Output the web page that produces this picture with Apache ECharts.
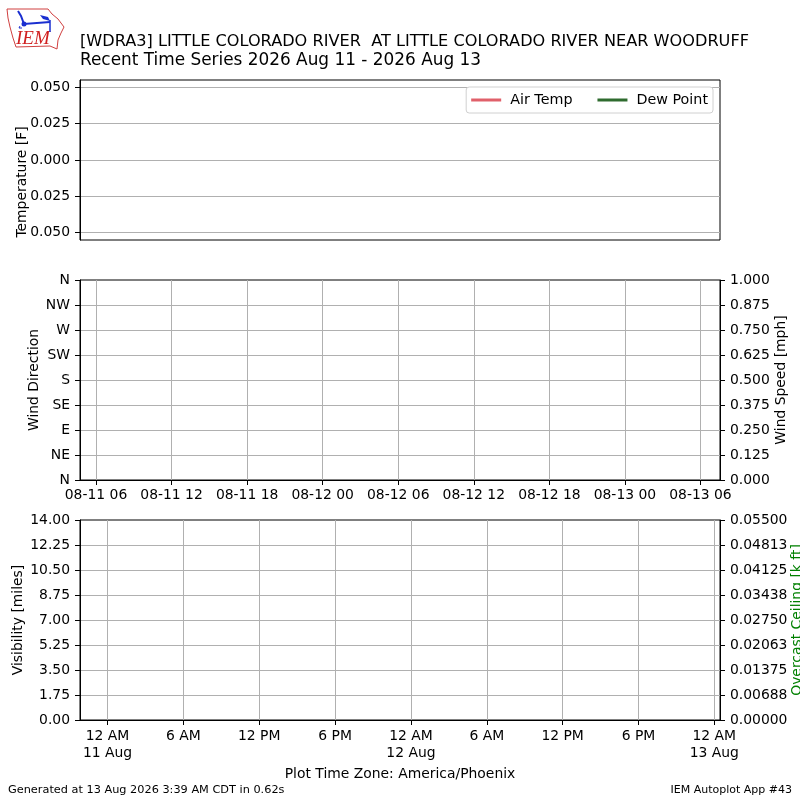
<!DOCTYPE html>
<html>
<head>
<meta charset="utf-8">
<script src="https://cdn.jsdelivr.net/npm/echarts@6/dist/echarts.min.js"></script>
<style>html,body{margin:0;padding:0;background:#fff}#c{width:800px;height:800px}</style>
</head>
<body>
<div id="c"></div>
<script>
// ---- data (empty in the reference: no observations plotted) ----
var airTemp = [];
var dewPoint = [];
var windDir = [];
var windSpeed = [];
var visibility = [];
var ceiling = [];

// ---- tick values / labels (hours since 2026-08-11 00:00) ----
var tempTicks = [-0.05, -0.025, 0, 0.025, 0.05];
var tempTickLabels = ['0.050', '0.025', '0.000', '0.025', '0.050'];
var dirLabels = ['N', 'NE', 'E', 'SE', 'S', 'SW', 'W', 'NW', 'N'];
var speedLabels = ['0.000', '0.125', '0.250', '0.375', '0.500', '0.625', '0.750', '0.875', '1.000'];
var midTickHours = [6, 12, 18, 24, 30, 36, 42, 48, 54];
var midTickLabels = ['08-11 06', '08-11 12', '08-11 18', '08-12 00', '08-12 06', '08-12 12', '08-12 18', '08-13 00', '08-13 06'];
var botTickHours = [0, 6, 12, 18, 24, 30, 36, 42, 48];
var botTickLabels = ['12 AM\n11 Aug', '6 AM', '12 PM', '6 PM', '12 AM\n12 Aug', '6 AM', '12 PM', '6 PM', '12 AM\n13 Aug'];
var visLabels = ['0.00', '1.75', '3.50', '5.25', '7.00', '8.75', '10.50', '12.25', '14.00'];
var ceilLabels = ['0.00000', '0.00688', '0.01375', '0.02063', '0.02750', '0.03438', '0.04125', '0.04813', '0.05500'];

function lookup(vals, labels) {
  return function (v) {
    for (var i = 0; i < vals.length; i++) if (Math.abs(vals[i] - v) < 1e-6) return labels[i];
    return '';
  };
}
function byIndex(labels) { return function (v, i) { return labels[i] !== undefined ? labels[i] : ''; }; }

var F = 'DejaVu Sans';
var FS = 13.9;
var grid0 = { left: 80, top: 80, width: 640, height: 160 };
var grid1 = { left: 80, top: 280, width: 640, height: 200 };
var grid2 = { left: 80, top: 520, width: 640, height: 200 };
[grid0, grid1, grid2].forEach(function (g) {
  g.show = true; g.borderColor = '#000'; g.borderWidth = 1; g.backgroundColor = '#fff';
  g.containLabel = false; g.outerBoundsMode = 'none';
});

var lab = { color: '#000', fontFamily: F, fontSize: FS, margin: 10 };
var tick = { show: true, inside: false, length: 5, lineStyle: { color: '#000', width: 1 } };
var axLine = { show: true, onZero: false, lineStyle: { color: '#000', width: 1 } };
var gridLineStyle = { color: '#b0b0b0', width: 1 };
var splitEdge = { show: true, showMinLine: false, showMaxLine: false, lineStyle: gridLineStyle };
var splitAll = { show: true, showMinLine: true, showMaxLine: true, lineStyle: gridLineStyle };

function vText(txt, x, y, color) {
  return { type: 'text', x: x, y: y, rotation: Math.PI / 2,
    style: { text: txt, font: '13.9px "DejaVu Sans"', fill: color || '#000', align: 'center', verticalAlign: 'middle' } };
}

var chart = echarts.init(document.getElementById('c'), null, { renderer: 'canvas' });
chart.setOption({
  animation: false,
  backgroundColor: '#fff',
  grid: [grid0, grid1, grid2],
  legend: {
    data: ['Air Temp', 'Dew Point'],
    right: 87, top: 87,
    orient: 'horizontal',
    icon: 'rect', itemWidth: 30, itemHeight: 3, itemGap: 25,
    padding: [6, 5, 6, 5],
    borderColor: '#d0d0d0', borderWidth: 1, borderRadius: 3,
    backgroundColor: '#fff',
    textStyle: { color: '#000', fontFamily: F, fontSize: 14.3, padding: [0, 0, 0, 4] }
  },
  xAxis: [
    { gridIndex: 0, type: 'value', min: 4.73, max: 55.55, axisLine: { show: false, onZero: false }, axisTick: { show: false }, axisLabel: { show: false }, splitLine: { show: false } },
    { gridIndex: 1, type: 'value', min: 4.73, max: 55.55, axisLine: axLine,
      axisTick: Object.assign({ customValues: midTickHours }, tick),
      axisLabel: Object.assign({ customValues: midTickHours, formatter: lookup(midTickHours, midTickLabels), hideOverlap: false, alignMinLabel: 'center', alignMaxLabel: 'center' }, lab, { margin: 8 }),
      splitLine: splitAll },
    { gridIndex: 2, type: 'value', min: -2.18, max: 48.45, axisLine: axLine,
      axisTick: Object.assign({ customValues: botTickHours }, tick),
      axisLabel: Object.assign({ customValues: botTickHours, formatter: lookup(botTickHours, botTickLabels), lineHeight: 17, align: 'center', hideOverlap: false, alignMinLabel: 'center', alignMaxLabel: 'center' }, lab, { margin: 8 }),
      splitLine: splitAll }
  ],
  yAxis: [
    { gridIndex: 0, type: 'value', min: -0.055, max: 0.055, position: 'left', axisLine: axLine,
      axisTick: Object.assign({ customValues: tempTicks }, tick),
      axisLabel: Object.assign({ customValues: tempTicks, formatter: lookup(tempTicks, tempTickLabels) }, lab),
      splitLine: splitAll },
    { gridIndex: 1, type: 'value', min: 0, max: 360, interval: 45, position: 'left', axisLine: axLine, axisTick: tick,
      axisLabel: Object.assign({ formatter: byIndex(dirLabels) }, lab),
      splitLine: splitEdge },
    { gridIndex: 1, type: 'value', min: 0, max: 1, interval: 0.125, position: 'right', axisLine: axLine, axisTick: tick,
      axisLabel: Object.assign({ formatter: byIndex(speedLabels) }, lab),
      splitLine: { show: false } },
    { gridIndex: 2, type: 'value', min: 0, max: 14, interval: 1.75, position: 'left', axisLine: axLine, axisTick: tick,
      axisLabel: Object.assign({ formatter: byIndex(visLabels) }, lab),
      splitLine: splitEdge },
    { gridIndex: 2, type: 'value', min: 0, max: 0.055, interval: 0.006875, position: 'right', axisLine: axLine, axisTick: tick,
      axisLabel: Object.assign({ formatter: byIndex(ceilLabels) }, lab),
      splitLine: { show: false } }
  ],
  series: [
    { name: 'Air Temp', type: 'line', xAxisIndex: 0, yAxisIndex: 0, data: airTemp, showSymbol: false, color: '#e0606a', lineStyle: { width: 2 } },
    { name: 'Dew Point', type: 'line', xAxisIndex: 0, yAxisIndex: 0, data: dewPoint, showSymbol: false, color: '#2e6b2e', lineStyle: { width: 2 } },
    { name: 'Wind Direction', type: 'scatter', xAxisIndex: 1, yAxisIndex: 1, data: windDir },
    { name: 'Wind Speed', type: 'line', xAxisIndex: 1, yAxisIndex: 2, data: windSpeed },
    { name: 'Visibility', type: 'line', xAxisIndex: 2, yAxisIndex: 3, data: visibility },
    { name: 'Ceiling', type: 'scatter', xAxisIndex: 2, yAxisIndex: 4, data: ceiling }
  ],
  graphic: [
    { type: 'text', x: 80, y: 42, style: { text: '[WDRA3] LITTLE COLORADO RIVER  AT LITTLE COLORADO RIVER NEAR WOODRUFF', font: '16.15px "DejaVu Sans"', fill: '#000', verticalAlign: 'middle' } },
    { type: 'text', x: 80, y: 61, style: { text: 'Recent Time Series 2026 Aug 11 - 2026 Aug 13', font: '16.9px "DejaVu Sans"', fill: '#000', verticalAlign: 'middle' } },
    vText('Temperature [F]', 22, 182),
    vText('Wind Direction', 34, 380),
    vText('Wind Speed [mph]', 781, 380),
    vText('Visibility [miles]', 18, 620),
    vText('Overcast Ceiling [k ft]', 797, 620, '#008000'),
    { type: 'text', x: 400, y: 774, style: { text: 'Plot Time Zone: America/Phoenix', font: '13.9px "DejaVu Sans"', fill: '#000', align: 'center', verticalAlign: 'middle' } },
    { type: 'text', x: 8, y: 790, style: { text: 'Generated at 13 Aug 2026 3:39 AM CDT in 0.62s', font: '11.3px "DejaVu Sans"', fill: '#000', align: 'left', verticalAlign: 'middle' } },
    { type: 'text', x: 792, y: 790, style: { text: 'IEM Autoplot App #43', font: '11px "DejaVu Sans"', fill: '#000', align: 'right', verticalAlign: 'middle' } },
    // logo
    { type: 'polygon', shape: { points: [[7, 9], [48, 9], [52, 14], [58, 19], [64, 27], [61, 33], [58, 40], [57, 49], [50, 46], [16, 47], [13, 38], [10, 27], [8, 18]] },
      style: { fill: 'none', stroke: '#d04040', lineWidth: 1 } },
    { type: 'text', x: 16, y: 48, style: { text: 'IEM', font: 'italic 19px "Liberation Serif"', fill: '#d02020', verticalAlign: 'bottom' } },
    { type: 'polyline', shape: { points: [[18, 11], [21, 16], [24, 24], [50, 22]] }, style: { stroke: '#1a2fd0', lineWidth: 2, fill: 'none' } },
    { type: 'circle', shape: { cx: 24, cy: 24, r: 2.5 }, style: { fill: '#1a2fd0' } },
    { type: 'polygon', shape: { points: [[40, 15], [48, 17], [50, 21], [43, 19]] }, style: { fill: '#1a2fd0' } },
    { type: 'polyline', shape: { points: [[50, 20], [50, 32]] }, style: { stroke: '#1a2fd0', lineWidth: 1.5 } },
    { type: 'polyline', shape: { points: [[20, 26], [19, 28], [22, 28]] }, style: { stroke: '#1a2fd0', lineWidth: 1, fill: 'none' } }
  ]
});
</script>
</body>
</html>
